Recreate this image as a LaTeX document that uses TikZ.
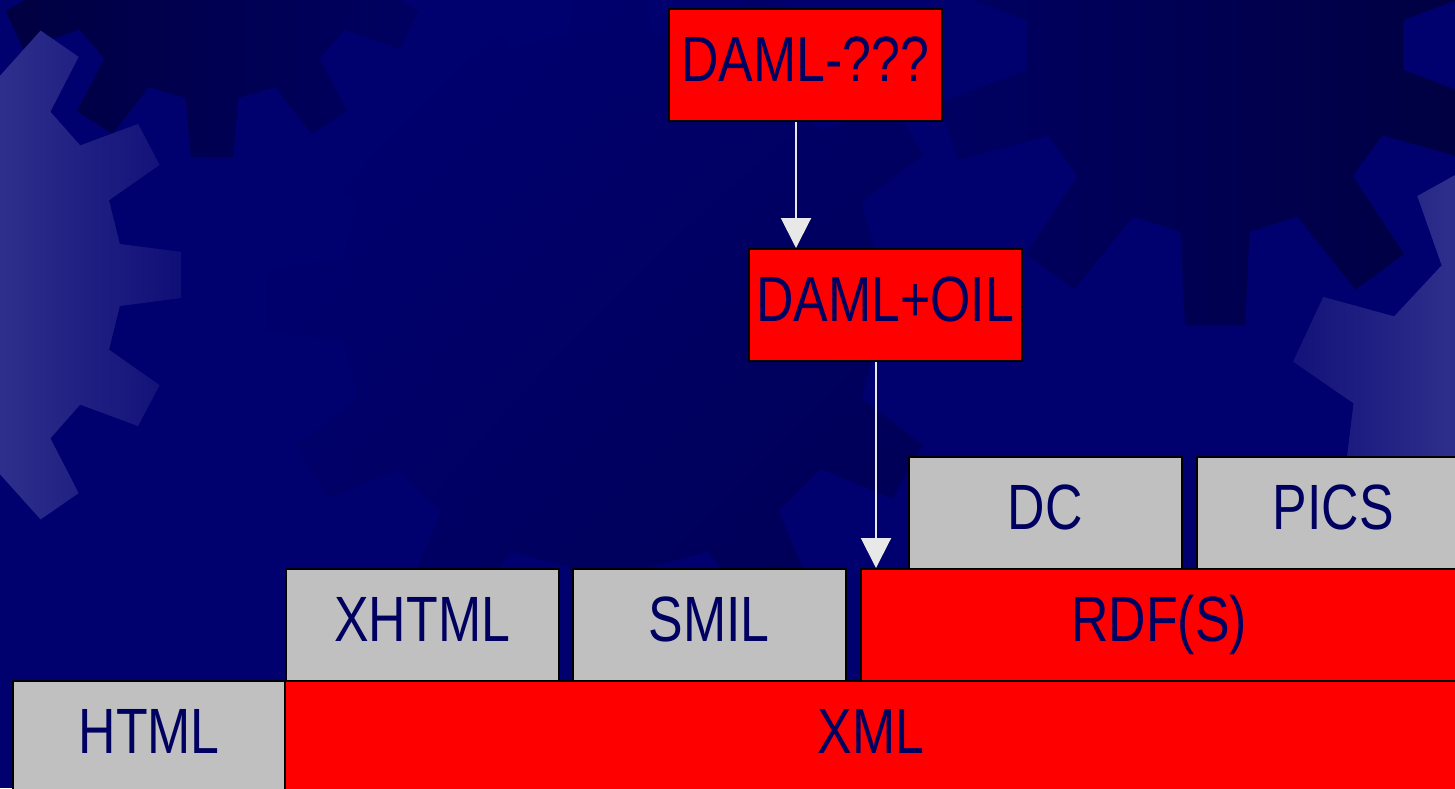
\documentclass[tikz,border=0pt]{standalone}
\usepackage{fontspec}
\newfontfamily\narrowsans{Liberation Sans}[FakeStretch=0.81]
\usetikzlibrary{arrows.meta,shadings}

\definecolor{navybg}{RGB}{0,0,110}
\definecolor{labelblue}{RGB}{0,0,96}
\definecolor{boxred}{RGB}{255,0,0}
\definecolor{boxgray}{RGB}{192,192,192}
\definecolor{arrowgray}{RGB}{232,232,232}
\definecolor{gearlight}{RGB}{62,62,150}
\definecolor{gearhi}{RGB}{0,0,116}
\definecolor{gearmid}{RGB}{0,0,102}
\definecolor{gearlo}{RGB}{0,0,82}
\definecolor{geardark}{RGB}{0,0,64}
\definecolor{geardusk}{RGB}{0,0,98}

% gear outline: centre (#1,#2), root radius #3, tip radius #4, #5 teeth, first tooth at angle #6
\newcommand\gearpath[6]{%
  ({#1+(#3)*cos(#6+360/#5*(1-0.29))},{#2+(#3)*sin(#6+360/#5*(1-0.29))})
  \foreach \gi in {1,...,#5}{
    -- ({#1+(#3)*cos(#6+360/#5*(\gi-0.29))},{#2+(#3)*sin(#6+360/#5*(\gi-0.29))})
    -- ({#1+(#4)*cos(#6+360/#5*(\gi-0.17))},{#2+(#4)*sin(#6+360/#5*(\gi-0.17))})
    -- ({#1+(#4)*cos(#6+360/#5*(\gi+0.17))},{#2+(#4)*sin(#6+360/#5*(\gi+0.17))})
    -- ({#1+(#3)*cos(#6+360/#5*(\gi+0.29))},{#2+(#3)*sin(#6+360/#5*(\gi+0.29))})
  } -- cycle}

\tikzset{
  layer/.style={draw=black, line width=1.5pt, minimum width=273pt, minimum height=112pt,
    inner sep=0pt, text height=50pt, text depth=16pt, anchor=north west,
    font=\narrowsans\fontsize{64}{70}\selectfont, text=labelblue},
  redbox/.style={layer, fill=boxred},
  graybox/.style={layer, fill=boxgray},
  flow/.style={draw=arrowgray, line width=2pt, -{Triangle[width=30pt,length=30pt,fill=arrowgray]}}
}

\begin{document}
\begin{tikzpicture}[x=1pt, y=-1pt]
\useasboundingbox (0,0) rectangle (1455,788);
\begin{scope}
  \clip (0,0) rectangle (1455,788);
  % backdrop
  \fill[navybg] (0,0) rectangle (1455,788);
  % large central gear
  \shade[upper left=gearhi, upper right=gearmid, lower left=gearmid, lower right=gearlo]
    \gearpath{610}{300}{270}{345}{12}{180};
  % dark gears along the top edge
  \shade[left color=geardark, right color=geardusk] \gearpath{212}{-60}{160}{218}{11}{90};
  \shade[left color=geardusk, right color=geardark] \gearpath{1215}{45}{190}{282}{10}{90};
  % pale gear on the left, fading to the right
  \begin{scope}
    \clip \gearpath{-100}{275}{222}{282}{13}{0};
    \shade[left color=gearlight, right color=navybg] (-87.5,-20) rectangle (262.5,600);
  \end{scope}
  % pale gear on the right, fading to the left
  \begin{scope}
    \clip \gearpath{1610}{470}{265}{335}{10}{205};
    \shade[left color=navybg, right color=gearlight] (1192.5,100) rectangle (1542.5,800);
  \end{scope}

  % layer boxes
  \node[redbox]  (damlq)   at (668,8)    {DAML-???};
  \node[redbox]  (damloil) at (748,248)  {DAML+OIL};
  \node[graybox] (dc)      at (908,456)  {DC};
  \node[graybox] (pics)    at (1196,456) {PICS};
  \node[graybox] (xhtml)   at (285,568)  {XHTML};
  \node[graybox] (smil)    at (572,568)  {SMIL};
  \node[redbox, minimum width=597pt]  (rdfs) at (860,568) {RDF(S)};
  \node[graybox] (html)    at (12,680)   {HTML};
  \node[redbox, minimum width=1172pt] (xml)  at (284,680) {XML};

  % arrows
  \coordinate (a1) at ([xshift=128pt]damlq.south west);
  \coordinate (a2) at ([xshift=128pt]damloil.south west);
  \draw[flow] (a1) -- (a1 |- damloil.north);
  \draw[flow] (a2) -- (a2 |- rdfs.north);
\end{scope}
\end{tikzpicture}
\end{document}
